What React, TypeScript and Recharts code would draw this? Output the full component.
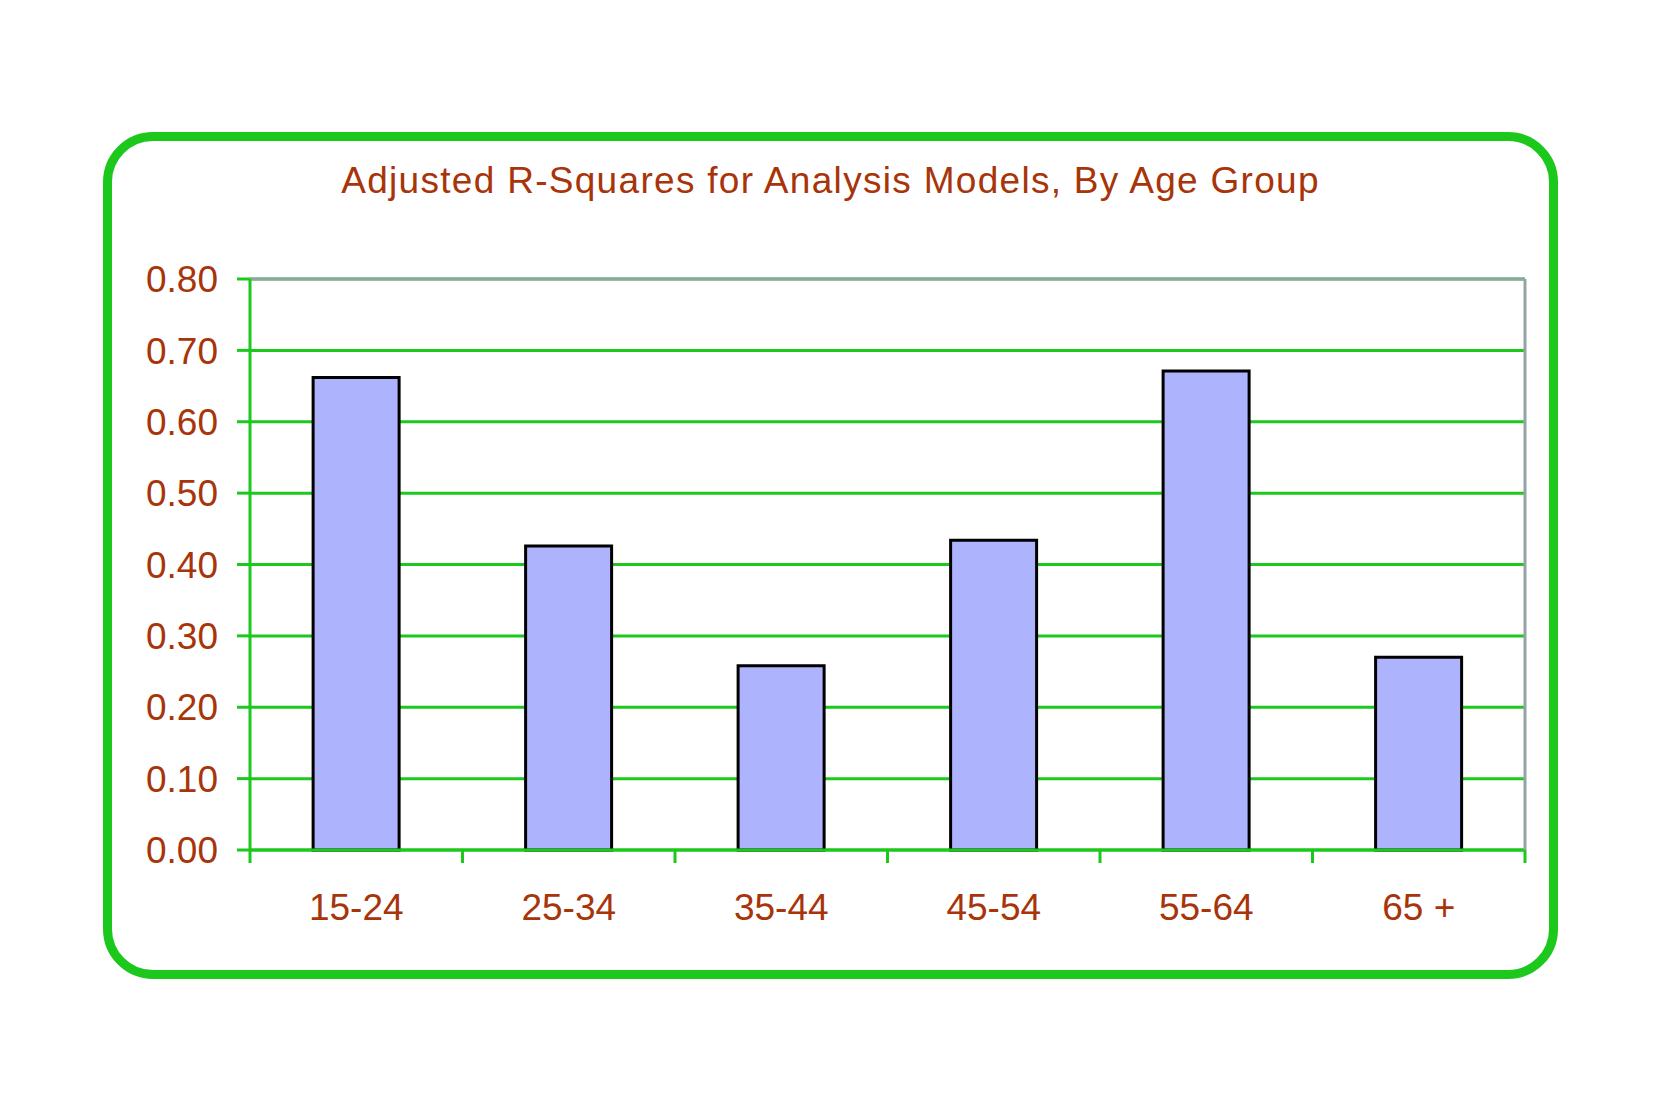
import React from 'react';
import { BarChart, Bar, XAxis, YAxis, CartesianGrid, ReferenceLine } from 'recharts';

const ageGroups = ['15-24', '25-34', '35-44', '45-54', '55-64', '65 +'];
const adjustedRSquares = [0.662, 0.426, 0.258, 0.434, 0.671, 0.27];
const yTicks = [0, 0.1, 0.2, 0.3, 0.4, 0.5, 0.6, 0.7, 0.8];

const data = ageGroups.map((group, i) => ({ group, r2: adjustedRSquares[i] }));

const GREEN = '#1cc81c';
const GRAY = '#94a3a3';
const TEXT = '#a8340a';
const FONT = '"Liberation Sans", Arial, sans-serif';

const W = 1676;
const H = 1116;
const PLOT_L = 250;
const PLOT_R = 1525;
const PLOT_T = 279;
const PLOT_B = 850;
const BAND = (PLOT_R - PLOT_L) / ageGroups.length;

// x tick: label at the category centre, tick marks at the category edges
function CategoryTick(props: any) {
  const { x, y, payload, index } = props;
  const left = x - BAND / 2;
  const last = index === ageGroups.length - 1;
  return (
    <g>
      <line x1={left} y1={PLOT_B} x2={left} y2={PLOT_B + 13} stroke={GREEN} strokeWidth={3} />
      {last && <line x1={x + BAND / 2} y1={PLOT_B} x2={x + BAND / 2} y2={PLOT_B + 13} stroke={GREEN} strokeWidth={3} />}
      <text x={x} y={y + 62} textAnchor="middle" fill={TEXT} fontSize={37} fontFamily={FONT}>
        {payload.value}
      </text>
    </g>
  );
}

export default function App() {
  return (
    <div style={{ position: 'absolute', left: 0, top: 0, width: W, height: H, background: '#fff' }}>
      <div
        style={{
          position: 'absolute',
          left: 103,
          top: 132,
          width: 1455,
          height: 847,
          border: `9.5px solid ${GREEN}`,
          borderRadius: 50,
          boxSizing: 'border-box',
        }}
      />
      <div
        style={{
          position: 'absolute',
          left: 103,
          width: 1455,
          top: 160,
          textAlign: 'center',
          fontFamily: FONT,
          fontSize: 37,
          color: TEXT,
          letterSpacing: 1.3,
          lineHeight: '42px',
        }}
      >
        Adjusted R-Squares for Analysis Models, By Age Group
      </div>
      <div style={{ position: 'absolute', left: 0, top: 0 }}>
        <BarChart
          width={W}
          height={H}
          data={data}
          margin={{ top: PLOT_T, right: W - PLOT_R - 1, bottom: H - PLOT_B - 50, left: 0 }}
          barCategoryGap="29.7%"
        >
          <CartesianGrid yAxisId="left" horizontal vertical={false} stroke={GREEN} strokeWidth={3} />
          <XAxis
            dataKey="group"
            height={50}
            axisLine={{ stroke: GREEN, strokeWidth: 3 }}
            tickLine={false}
            tick={<CategoryTick />}
            interval={0}
          />
          <YAxis
            yAxisId="left"
            width={PLOT_L}
            domain={[0, 0.8]}
            ticks={yTicks}
            tickFormatter={(v: number) => v.toFixed(2)}
            axisLine={{ stroke: GREEN, strokeWidth: 3 }}
            tickLine={{ stroke: GREEN, strokeWidth: 3 }}
            tickSize={13}
            tickMargin={19}
            tick={{ fill: TEXT, fontSize: 37, fontFamily: FONT }}
          />
          <YAxis
            yAxisId="right"
            orientation="right"
            width={1}
            domain={[0, 0.8]}
            tick={false}
            tickLine={false}
            axisLine={{ stroke: GRAY, strokeWidth: 3 }}
          />
          <ReferenceLine yAxisId="left" y={0.8} stroke={GRAY} strokeWidth={3} />
          <Bar
            yAxisId="left"
            dataKey="r2"
            fill="#aeb3fd"
            stroke="#000"
            strokeWidth={3}
            isAnimationActive={false}
          />
        </BarChart>
      </div>
    </div>
  );
}
